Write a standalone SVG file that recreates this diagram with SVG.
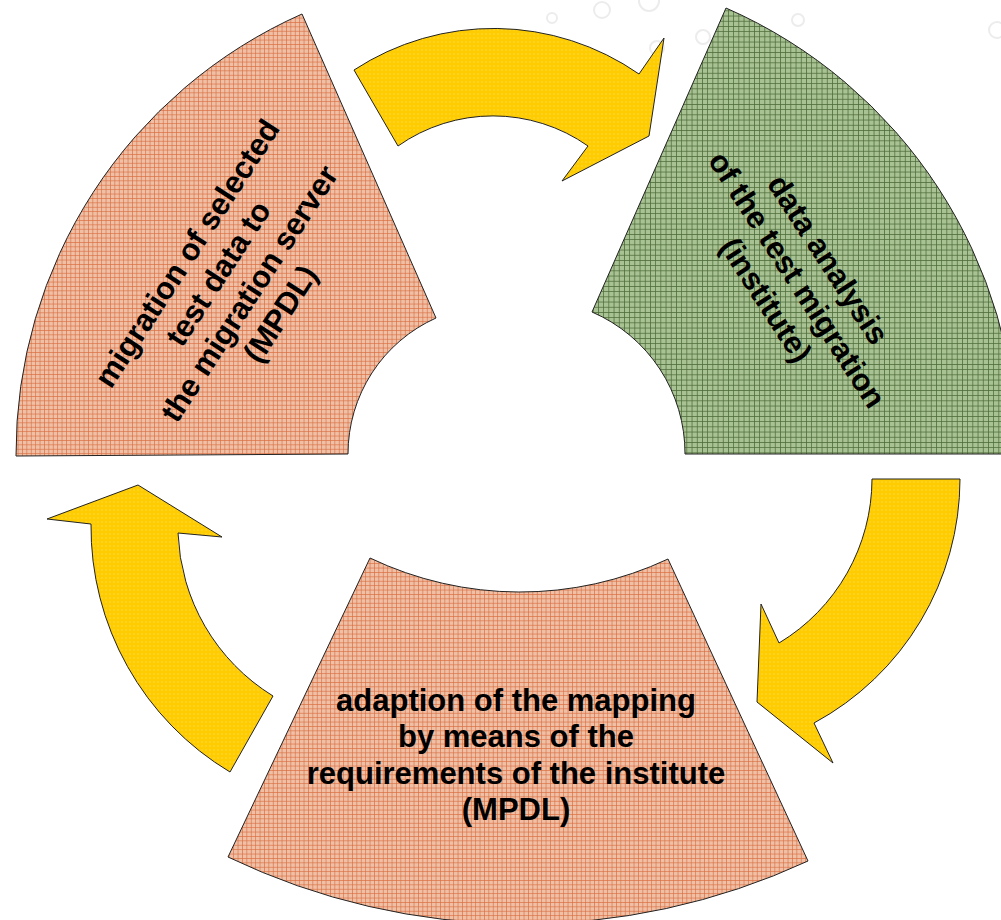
<svg xmlns="http://www.w3.org/2000/svg" width="1001" height="920" viewBox="0 0 1001 920">
  <style>
    .sector { stroke: #222; stroke-width: 1; }
    .arrow { fill: url(#pYellow); stroke: #222; stroke-width: 1; stroke-linejoin: miter; }
    .label { font-family: "Liberation Sans", Arial, sans-serif; font-weight: bold; font-size: 31px; fill: #000; text-anchor: middle; }
    .deco { fill: none; stroke: #ececec; stroke-width: 2; }
  </style>
  <defs>
    <pattern id="pSalmon" width="4.4" height="4.4" patternUnits="userSpaceOnUse">
      <rect width="4.4" height="4.4" fill="#EFC0A6"/>
      <path d="M0 0.35H4.4M0.35 0V4.4" stroke="#D96A3B" stroke-width="0.7"/>
    </pattern>
    <pattern id="pGreen" width="5.2" height="5.2" patternUnits="userSpaceOnUse">
      <rect width="5.2" height="5.2" fill="#A9C293"/>
      <path d="M0 0.4H5.2M0.4 0V5.2" stroke="#4D6B3A" stroke-width="0.8"/>
    </pattern>
    <pattern id="pYellow" width="4" height="4" patternUnits="userSpaceOnUse">
      <rect width="4" height="4" fill="#FFCC00"/>
      <circle cx="2" cy="2" r="0.8" fill="#FFDA4D"/>
    </pattern>
  </defs>
  <rect width="1001" height="920" fill="#fff"/>

  <g id="decoration">
    <circle class="deco" cx="552" cy="18" r="5"/>
    <circle class="deco" cx="602" cy="10" r="8"/>
    <circle class="deco" cx="649" cy="1" r="10"/>
    <circle class="deco" cx="703" cy="37" r="7"/>
    <circle class="deco" cx="657" cy="48" r="7"/>
    <circle class="deco" cx="798" cy="20" r="6"/>
    <circle class="deco" cx="997" cy="30" r="8"/>
  </g>

  <g id="node-migration">
    <path class="sector" fill="url(#pSalmon)" d="M16,456 A481,481 0 0 1 302,14 L436,318 A149,149 0 0 0 348,454 Z"/>
    <g transform="translate(233.3,283.3) rotate(-57)">
      <text class="label" x="0" y="-44.5">migration of selected</text>
      <text class="label" x="0" y="-7.5">test data to</text>
      <text class="label" x="0" y="29.5">the migration server</text>
      <text class="label" x="0" y="66.5">(MPDL)</text>
    </g>
  </g>

  <g id="node-analysis">
    <path class="sector" fill="url(#pGreen)" d="M726,8 A486,486 0 0 1 1017,454 L685,454 A154,154 0 0 0 592,312 Z"/>
    <g transform="translate(797.5,279.5) rotate(57)">
      <text class="label" x="0" y="-26">data analysis</text>
      <text class="label" x="0" y="11">of the test migration</text>
      <text class="label" x="0" y="48">(institute)</text>
    </g>
  </g>

  <g id="node-adaption">
    <path class="sector" fill="url(#pSalmon)" d="M370,558 A348,348 0 0 0 668,559 L808,861 A680,680 0 0 1 228,857 Z"/>
    <text class="label" x="516" y="710.5">adaption of the mapping</text>
    <text class="label" x="516" y="747">by means of the</text>
    <text class="label" x="516" y="783.5">requirements of the institute</text>
    <text class="label" x="516" y="820">(MPDL)</text>
  </g>

  <g id="connectors">
    <path id="arrow-top" class="arrow" d="M354,70 A255,255 0 0 1 639,74 L664,38 L649,136 L562,181 L588,146 A165,165 0 0 0 398,146 Z"/>
    <path id="arrow-right" class="arrow" d="M872,479 L960,479 A278,278 0 0 1 814,723 L833,763 L757,702 L761,604 L779,643 A192,192 0 0 0 872,479 Z"/>
    <path id="arrow-left" class="arrow" d="M138,485 L47,519 L91,524 A286,286 0 0 0 230,772 L273,696 A200,200 0 0 1 178,533 L222,537 Z"/>
  </g>
</svg>
